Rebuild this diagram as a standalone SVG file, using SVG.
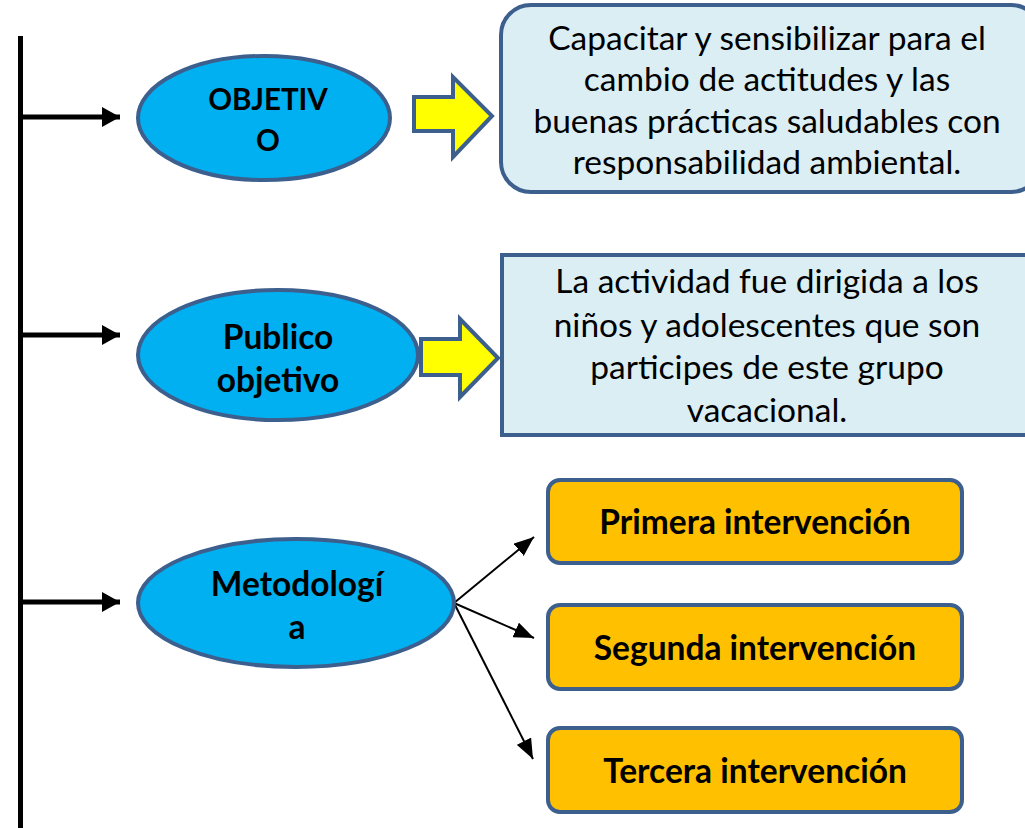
<svg xmlns="http://www.w3.org/2000/svg" width="1025" height="828" viewBox="0 0 1025 828">
<style>
.ell{fill:#00B0F0;stroke:#3C5F8E;stroke-width:4}
.blue{fill:#DAEEF3;stroke:#3C5F8E;stroke-width:4}
.org{fill:#FFC000;stroke:#3C5F8E;stroke-width:4}
.yarr{fill:#FFFF00;stroke:#3C5F8E;stroke-width:4;stroke-linejoin:miter}
.bt{font-family:Lato,"Liberation Sans",sans-serif;font-weight:bold;font-size:33.5px;fill:#000;text-anchor:middle}
.sm{font-size:29.5px}
.nt{font-family:Lato,"Liberation Sans",sans-serif;font-size:33.5px;fill:#000;text-anchor:middle}
.thick{stroke:#000;stroke-width:5;fill:none}
.thin{stroke:#000;stroke-width:2;fill:none}
</style>
<defs>
<marker id="mh" markerWidth="18" markerHeight="20" refX="18" refY="10" orient="auto" markerUnits="userSpaceOnUse"><path d="M0,0 L18,10 L0,20 Z" fill="#000"/></marker>
<marker id="ms" markerWidth="20" markerHeight="16" refX="20" refY="8" orient="auto" markerUnits="userSpaceOnUse"><path d="M0,0 L20,8 L0,16 Z" fill="#000"/></marker>
</defs>
<g id="connectors">
<line class="thick" x1="20.5" y1="36" x2="20.5" y2="828" stroke-width="6"/>
<line class="thick" x1="20" y1="117" x2="120" y2="117" marker-end="url(#mh)"/>
<line class="thick" x1="20" y1="335" x2="120" y2="335" marker-end="url(#mh)"/>
<line class="thick" x1="20" y1="602" x2="120" y2="602" marker-end="url(#mh)"/>
<line class="thin" x1="454" y1="603" x2="534" y2="537" marker-end="url(#ms)"/>
<line class="thin" x1="454" y1="603" x2="534" y2="638" marker-end="url(#ms)"/>
<line class="thin" x1="454" y1="603" x2="533" y2="759" marker-end="url(#ms)"/>
<polygon class="yarr" points="414,97 453,97 453,77 492,116 453,157 453,131 414,131"/>
<polygon class="yarr" points="421,339 460,339 460,319 498,358 460,397 460,375 421,375"/>
</g>
<g id="objetivo">
<ellipse class="ell" cx="264" cy="118" rx="126" ry="62"/>
<text class="bt sm" x="268" y="110">OBJETIV</text>
<text class="bt sm" x="268" y="151">O</text>
</g>
<g id="publico">
<ellipse class="ell" cx="278" cy="355" rx="140" ry="65"/>
<text class="bt" x="278" y="349">Publico</text>
<text class="bt" x="278" y="392">objetivo</text>
</g>
<g id="metodologia">
<ellipse class="ell" cx="296" cy="603" rx="158" ry="64"/>
<text class="bt" x="297" y="596">Metodologí</text>
<text class="bt" x="297" y="639">a</text>
</g>
<g id="objetivo-desc">
<rect class="blue" x="501" y="5" width="540" height="187" rx="30"/>
<text class="nt" x="767" y="50">Capacitar y sensibilizar para el</text>
<text class="nt" x="767" y="91">cambio de actitudes y las</text>
<text class="nt" x="767" y="133">buenas prácticas saludables con</text>
<text class="nt" x="767" y="174">responsabilidad ambiental.</text>
</g>
<g id="publico-desc">
<rect class="blue" x="502" y="255" width="540" height="180"/>
<text class="nt" x="767" y="293">La actividad fue dirigida a los</text>
<text class="nt" x="767" y="337">niños y adolescentes que son</text>
<text class="nt" x="767" y="379">participes de este grupo</text>
<text class="nt" x="767" y="422">vacacional.</text>
</g>
<g id="primera">
<rect class="org" x="548" y="480" width="414" height="83" rx="12"/>
<text class="bt" x="755" y="534">Primera intervención</text>
</g>
<g id="segunda">
<rect class="org" x="548" y="605" width="414" height="84" rx="12"/>
<text class="bt" x="755" y="660">Segunda intervención</text>
</g>
<g id="tercera">
<rect class="org" x="548" y="728" width="414" height="84" rx="12"/>
<text class="bt" x="755" y="783">Tercera intervención</text>
</g>
</svg>
